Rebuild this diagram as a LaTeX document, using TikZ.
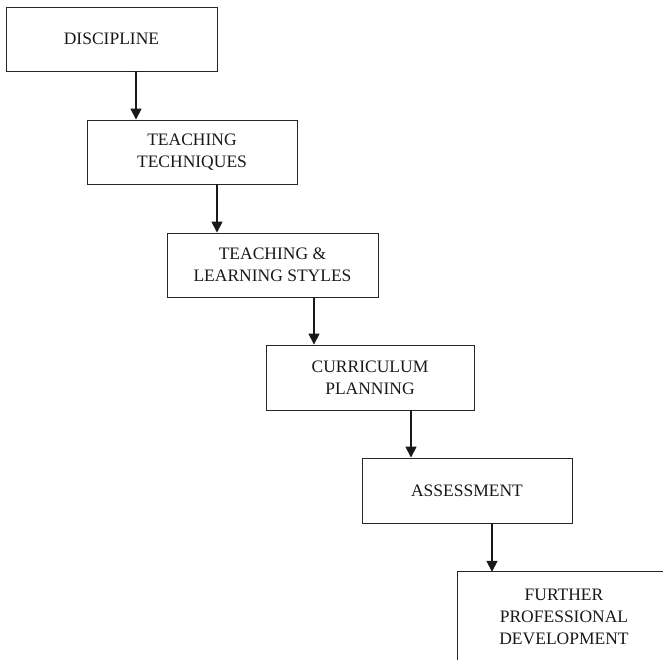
\documentclass[tikz,border=0pt]{standalone}
\usepackage{fontspec}
\setmainfont{Liberation Serif}
\usetikzlibrary{arrows.meta}
\begin{document}
\begin{tikzpicture}[x=1pt,y=-1pt,
  txt/.style={inner sep=0pt, align=center, font=\fontsize{17.5}{22}\selectfont, text=black!90},
  stepbox/.style={txt, draw=black!85, line width=0.9pt, minimum width=211pt, minimum height=64pt},
  arr/.style={draw=black!90, line width=1.6pt, -{Triangle[width=11pt,length=11pt]}}]
\useasboundingbox (0,0) rectangle (663,660);
\clip (0,0) rectangle (663,660);
\node[stepbox] (b1) at (111.5,39) {DISCIPLINE};
\node[stepbox, minimum width=210pt] (b2) at (192,152) {TEACHING\\TECHNIQUES};
\node[stepbox] (b3) at (272.5,265) {TEACHING \&\\LEARNING STYLES};
\node[stepbox, minimum width=208pt, minimum height=65pt] (b4) at (370,377.5) {CURRICULUM\\PLANNING};
\node[stepbox, minimum width=210pt, minimum height=65pt] (b5) at (467,490.5) {ASSESSMENT};
\node[txt, minimum width=210pt, minimum height=100pt] (b6) at (563,622) {};
\node[txt] (t6) at (564,617) {FURTHER\\PROFESSIONAL\\DEVELOPMENT};
\draw[draw=black!85, line width=0.9pt] (b6.south west) -- (b6.north west) -- (b6.north east);
\coordinate (c1) at (136,0);
\coordinate (c2) at (217,0);
\coordinate (c3) at (314,0);
\coordinate (c4) at (411,0);
\coordinate (c5) at (492,0);
\draw[arr] (c1 |- b1.south) -- (c1 |- b2.north);
\draw[arr] (c2 |- b2.south) -- (c2 |- b3.north);
\draw[arr] (c3 |- b3.south) -- (c3 |- b4.north);
\draw[arr] (c4 |- b4.south) -- (c4 |- b5.north);
\draw[arr] (c5 |- b5.south) -- (c5 |- b6.north);
\end{tikzpicture}
\end{document}
